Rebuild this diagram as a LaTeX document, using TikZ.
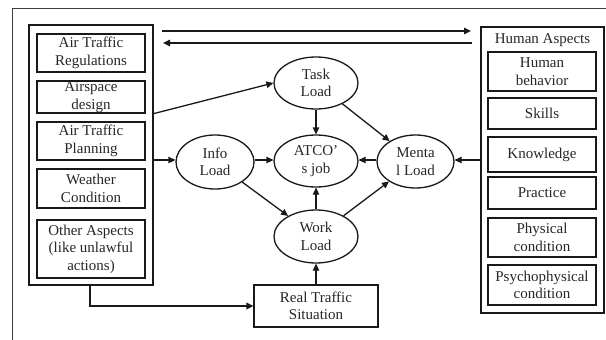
\documentclass[tikz,border=0pt]{standalone}
\usepackage{fontspec}
\setmainfont{Liberation Serif}
\newfontfamily\tnr{Liberation Serif}
\usetikzlibrary{arrows.meta,shapes.geometric}
\begin{document}
\begin{tikzpicture}[x=1pt,y=-1pt,
  every node/.style={font=\tnr\fontsize{15}{17.5}\selectfont, text=black!85, align=center, inner sep=0pt},
  box/.style={draw=black!90, line width=1.2pt, rectangle, minimum width=108pt},
  cont/.style={draw=black!90, line width=1.4pt, rectangle},
  ell/.style={draw=black!90, line width=1.3pt, ellipse, minimum width=82pt, minimum height=52pt},
  arr/.style={draw=black!90, line width=1.3pt, -{Triangle[length=7pt,width=6.5pt]}},
  frame/.style={draw=black!75, line width=1pt}
]
\useasboundingbox (0,0) rectangle (606,340);
% outer frame (partly cropped)
\draw[frame] (12,340) -- (12,8) -- (606,8);

% left container
\node[cont, minimum width=124pt, minimum height=260pt] (lc) at (91,155) {};
\node[box, minimum height=38pt] (reg) at (91,53) {Air Traffic\\Regulations};
\node[box, minimum height=32pt] (air) at (91,97) {Airspace\\design};
\node[box, minimum height=38pt] (plan) at (91,141) {Air Traffic\\Planning};
\node[box, minimum height=39pt] (weath) at (91,188.5) {Weather\\Condition};
\node[box, minimum height=58pt] (other) at (91,249) {Other Aspects\\(like unlawful\\actions)};

% right container
\node[cont, minimum width=123pt, minimum height=286pt] (rc) at (542.5,170) {};
\node (ha) at (542.5,40) {Human Aspects};
\node[box, minimum height=39pt] (hb) at (542,71.5) {Human\\behavior};
\node[box, minimum height=31pt] (sk) at (542,113.5) {Skills};
\node[box, minimum height=35pt] (kn) at (542,154.5) {Knowledge};
\node[box, minimum height=32pt] (pr) at (542,193) {Practice};
\node[box, minimum height=39pt] (ph) at (542,237.5) {Physical\\condition};
\node[box, minimum height=40pt] (ps) at (542,285) {Psychophysical\\condition};

% ellipses
\node[ell, minimum width=84pt] (task) at (316,83) {Task\\Load};
\node[ell, minimum width=84pt] (atco) at (316,161) {ATCO’\\s job};
\node[ell, minimum width=78pt, minimum height=54pt] (info) at (215,162) {Info\\Load};
\node[ell, minimum width=77pt, minimum height=53pt] (ment) at (415.5,161.5) {Menta\\l Load};
\node[ell, minimum width=84pt, minimum height=53pt] (work) at (316,236.5) {Work\\Load};
\node[box, minimum width=124pt, minimum height=42pt] (real) at (316,306) {Real Traffic\\Situation};

% top double arrows
\coordinate (t1a) at (162,31);
\coordinate (t1b) at (471,31);
\coordinate (t2a) at (472,43);
\coordinate (t2b) at (163,43);
\draw[arr] (t1a) -- (t1b);
\draw[arr] (t2a) -- (t2b);

% connectors
\draw[arr] (lc.east |- air.south) -- (task.west);
\draw[arr] (lc.east |- 0,160) -- (info.west |- 0,160);
\draw[arr] (info.east |- 0,160) -- (atco.west |- 0,160);
\draw[arr] (ment.west |- 0,160) -- (atco.east |- 0,160);
\draw[arr] (rc.west |- 0,160) -- (ment.east |- 0,160);
\draw[arr] (task) -- (atco);
\draw[arr] (task) -- (ment);
\draw[arr] (info) -- (work);
\draw[arr] (work) -- (atco);
\draw[arr] (work) -- (ment);
\draw[arr] (real) -- (work);
\draw[arr] (lc.south -| 90,0) |- (real.west);
\end{tikzpicture}
\end{document}
